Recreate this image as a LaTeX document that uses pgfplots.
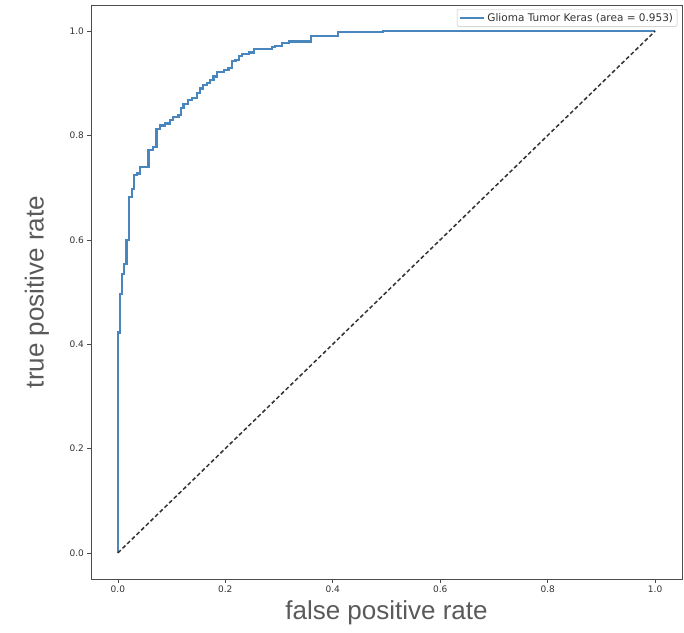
\documentclass[border=0pt]{standalone}
\usepackage{pgfplots}
\pgfplotsset{compat=1.18}
\usepackage{fontspec}
\setmainfont{DejaVu Sans}
\newfontfamily\labelfont{Liberation Sans}
\definecolor{roc}{HTML}{4A86BE}
\definecolor{labgray}{HTML}{5A5A5A}

\begin{document}
\begin{tikzpicture}
\useasboundingbox (-91pt,-53pt) rectangle (593pt,579pt);
\begin{axis}[
  at={(0pt,0pt)}, anchor=south west,
  scale only axis,
  width=591pt, height=574pt,
  xmin=-0.05, xmax=1.05, ymin=-0.05, ymax=1.05,
  xtick={0,0.2,0.4,0.6,0.8,1.0},
  ytick={0,0.2,0.4,0.6,0.8,1.0},
  xticklabel style={/pgf/number format/.cd, fixed, fixed zerofill, precision=1},
  yticklabel style={/pgf/number format/.cd, fixed, fixed zerofill, precision=1},
  /pgf/number format/assume math mode=true,
  ticklabel style={font=\fontsize{9}{10}\selectfont, text=black!80},
  tick align=outside, tick pos=left,
  major tick length=3.5pt,
  every tick/.style={black!70, line width=0.6pt},
  axis line style={black!70, line width=0.7pt},
  xlabel={false positive rate},
  ylabel={true positive rate},
  label style={font=\labelfont\fontsize{26}{30}\selectfont, text=labgray},
  xlabel style={at={(axis description cs:0.5,0)}, anchor=center, yshift=-34pt},
  ylabel style={at={(axis description cs:0,0.5)}, anchor=center, yshift=54pt},
  legend style={at={(0.992,0.993)}, anchor=north east, font=\fontsize{10.5}{12}\selectfont,
    draw=black!25, rounded corners=2pt, inner sep=2pt, text=black!80},
  legend cell align=left,
  legend image code/.code={\draw[#1] (0pt,0pt) -- (24pt,0pt);},
]
\addplot[const plot, roc, mark=none, line width=2.2pt] coordinates {
  (0,0) (0,0.4225) (0.004,0.496) (0.007,0.535) (0.011,0.554) (0.016,0.599)
  (0.021,0.682) (0.027,0.698) (0.030,0.724) (0.036,0.727) (0.041,0.740)
  (0.057,0.772) (0.066,0.778) (0.072,0.813) (0.0785,0.819) (0.088,0.823)
  (0.097,0.830) (0.103,0.836) (0.113,0.839) (0.117,0.852) (0.122,0.860)
  (0.131,0.868) (0.138,0.872) (0.147,0.881) (0.153,0.890) (0.159,0.897)
  (0.166,0.900) (0.172,0.906) (0.178,0.913) (0.184,0.921) (0.197,0.926)
  (0.206,0.930) (0.213,0.942) (0.219,0.945) (0.225,0.952) (0.231,0.956)
  (0.244,0.959) (0.253,0.965) (0.287,0.969) (0.293,0.972) (0.306,0.977)
  (0.318,0.980) (0.359,0.990) (0.409,0.998) (0.493,1.000) (1.0,1.000)
};
\addlegendentry{Glioma Tumor Keras (area = 0.953)}
\addplot[black!80, mark=none, line width=1.5pt, dash pattern=on 4pt off 2.5pt, forget plot] coordinates {
  (0,0) (1,1)
};
\end{axis}
\end{tikzpicture}
\end{document}
